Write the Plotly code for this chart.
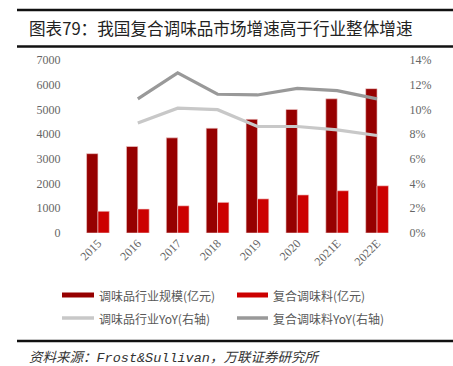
import plotly.graph_objects as go

categories = ["2015", "2016", "2017", "2018", "2019", "2020", "2021E", "2022E"]
industry_size = [3210, 3500, 3850, 4240, 4600, 5000, 5430, 5840]
compound_size = [880, 970, 1100, 1240, 1380, 1540, 1710, 1910]
industry_yoy = [None, 0.089, 0.101, 0.0998, 0.0862, 0.0862, 0.0835, 0.0789]
compound_yoy = [None, 0.1085, 0.1296, 0.1123, 0.1117, 0.117, 0.1152, 0.1085]
legend_labels = ["调味品行业规模(亿元)", "复合调味料(亿元)", "调味品行业YoY(右轴)", "复合调味料YoY(右轴)"]
title_text = "图表79：我国复合调味品市场增速高于行业整体增速"
source_text = ("资料来源：<span style='font-family:Liberation Mono'>Frost&amp;Sullivan</span>"
               "，万联证券研究所")

C_DARK = "#960000"
C_RED = "#CC0000"
C_LGRAY = "#C8C8C8"
C_DGRAY = "#999999"

W, H = 453, 366
L, R, T, B = 78, 56, 60, 133
fig = go.Figure()
fig.add_trace(go.Bar(x=categories, y=industry_size, name=legend_labels[0],
                     marker=dict(color=C_DARK, line=dict(color="#F2D0D0", width=0.6))))
fig.add_trace(go.Bar(x=categories, y=compound_size, name=legend_labels[1],
                     marker=dict(color=C_RED, line=dict(color="#F2D0D0", width=0.6))))
fig.add_trace(go.Scatter(x=categories, y=industry_yoy, name=legend_labels[2], yaxis="y2",
                         mode="lines", line=dict(color=C_LGRAY, width=3.2)))
fig.add_trace(go.Scatter(x=categories, y=compound_yoy, name=legend_labels[3], yaxis="y2",
                         mode="lines", line=dict(color=C_DGRAY, width=3.2)))

tick_font = dict(family="Liberation Serif, Times New Roman, serif", size=12, color="#666666")

fig.update_layout(
    width=W, height=H,
    margin=dict(l=L, r=R, t=T, b=B),
    paper_bgcolor="white", plot_bgcolor="white",
    showlegend=False,
    barmode="group", bargap=0.43, bargroupgap=0,
    xaxis=dict(type="category", tickangle=-45, tickfont=tick_font, showgrid=False,
               showline=False, zeroline=False, ticks=""),
    yaxis=dict(range=[0, 7000], dtick=1000, tickfont=tick_font, showgrid=False,
               zeroline=False, showline=False, ticks="outside", ticklen=14,
               tickcolor="rgba(0,0,0,0)", tickformat="d"),
    yaxis2=dict(range=[0, 0.14], dtick=0.02, tickformat=".0%", overlaying="y", side="right",
                tickfont=tick_font, showgrid=False, zeroline=False, showline=False,
                ticks="outside", ticklen=9, tickcolor="rgba(0,0,0,0)"),
)

def px_x(x):
    return (x - L) / (W - L - R)

def px_y(y):
    return (H - B - y) / (H - T - B)

shapes = []
annotations = []
for yy, w in [(10, 2.5), (46.5, 2.5), (341, 2.5)]:
    shapes.append(dict(type="line", xref="paper", yref="paper",
                       x0=px_x(17), x1=px_x(W), y0=px_y(yy), y1=px_y(yy),
                       line=dict(color="#111111", width=w)))

annotations.append(dict(text=title_text, xref="paper", yref="paper", x=px_x(27), y=px_y(28),
                        xanchor="left", yanchor="middle", showarrow=False,
                        font=dict(family="Noto Sans CJK SC", size=16.6, color="#222222")))
annotations.append(dict(text=source_text, xref="paper", yref="paper", x=px_x(27), y=px_y(356),
                        xanchor="left", yanchor="middle", showarrow=False,
                        font=dict(family="Noto Sans CJK SC", size=13.5, color="#333333", style="italic")))

# Manual legend
leg = [
    (62, 94, 295, C_DARK, "rect", legend_labels[0]),
    (237, 268, 295, C_RED, "rect", legend_labels[1]),
    (62, 94, 318, C_LGRAY, "line", legend_labels[2]),
    (237, 268, 318, C_DGRAY, "line", legend_labels[3]),
]
for x0, x1, yc, col, kind, lab in leg:
    if kind == "rect":
        shapes.append(dict(type="rect", xref="paper", yref="paper",
                           x0=px_x(x0), x1=px_x(x1), y0=px_y(yc + 2.5), y1=px_y(yc - 2.5),
                           fillcolor=col, line=dict(width=0)))
    else:
        shapes.append(dict(type="line", xref="paper", yref="paper",
                           x0=px_x(x0), x1=px_x(x1), y0=px_y(yc), y1=px_y(yc),
                           line=dict(color=col, width=3.5)))
    annotations.append(dict(text=lab, xref="paper", yref="paper", x=px_x(x1 + 3), y=px_y(yc),
                            xanchor="left", yanchor="middle", showarrow=False,
                            font=dict(family="Noto Sans CJK SC", size=12, color="#595959")))

fig.update_layout(shapes=shapes, annotations=annotations)
fig.write_html("out.html", config={"displayModeBar": False},
               post_script="document.body.style.margin='0';document.body.style.padding='0';")
